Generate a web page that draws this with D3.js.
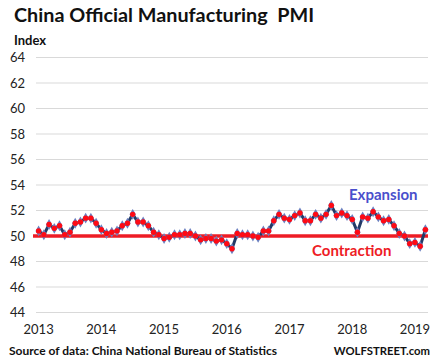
<!DOCTYPE html>
<html>
<head>
<meta charset="utf-8">
<script src="https://cdn.jsdelivr.net/npm/d3@7"></script>
<style>
  body { margin: 0; background: #fff; }
  svg { display: block; font-family: Lato, "Open Sans", sans-serif; }
</style>
</head>
<body>
<svg id="chart" width="437" height="364"></svg>
<script>
// monthly PMI, Jan 2013 .. Mar 2019
var pmi2013 = [50.4, 50.1, 50.9, 50.6, 50.8, 50.1, 50.3, 51.0, 51.1, 51.4, 51.4, 51.0];
var pmi2014 = [50.5, 50.2, 50.3, 50.4, 50.8, 51.0, 51.7, 51.1, 51.1, 50.8, 50.3, 50.1];
var pmi2015 = [49.8, 49.9, 50.1, 50.1, 50.2, 50.2, 50.0, 49.7, 49.8, 49.8, 49.6, 49.7];
var pmi2016 = [49.4, 49.0, 50.2, 50.1, 50.1, 50.0, 49.9, 50.4, 50.4, 51.2, 51.7, 51.4];
var pmi2017 = [51.3, 51.6, 51.8, 51.2, 51.2, 51.7, 51.4, 51.7, 52.4, 51.6, 51.8, 51.6];
var pmi2018 = [51.3, 50.3, 51.5, 51.4, 51.9, 51.5, 51.2, 51.3, 50.8, 50.2, 50.0, 49.4];
var pmi2019 = [49.5, 49.2, 50.5];

var years = ["2013", "2014", "2015", "2016", "2017", "2018", "2019"];
var yTicks = [44, 46, 48, 50, 52, 54, 56, 58, 60, 62, 64];
var threshold = 50;

var values = [].concat(pmi2013, pmi2014, pmi2015, pmi2016, pmi2017, pmi2018, pmi2019);
var data = values.map(function(v, i) { return { i: i, v: v }; });

var svg = d3.select("#chart");
var plotLeft = 36, plotRight = 428, plotTop = 57.5, plotBottom = 312.5;

var x = d3.scalePoint()
  .domain(d3.range(values.length))
  .range([plotLeft, plotRight])
  .padding(0.5);

var y = d3.scaleLinear()
  .domain([44, 64])
  .range([plotBottom, plotTop]);

// gridlines
svg.append("g")
  .selectAll("line")
  .data(yTicks)
  .enter().append("line")
  .attr("x1", plotLeft).attr("x2", plotRight)
  .attr("y1", function(d) { return y(d); })
  .attr("y2", function(d) { return y(d); })
  .attr("stroke", "#d9d9d9")
  .attr("stroke-width", 1);

// y labels
svg.append("g")
  .selectAll("text")
  .data(yTicks)
  .enter().append("text")
  .attr("x", 25)
  .attr("y", function(d) { return y(d); })
  .attr("dy", "0.35em")
  .attr("text-anchor", "end")
  .attr("font-size", 13)
  .attr("fill", "#222")
  .text(function(d) { return d; });

// x labels at january of each year
svg.append("g")
  .selectAll("text")
  .data(years)
  .enter().append("text")
  .attr("x", function(d, k) { return x(k * 12); })
  .attr("y", 334)
  .attr("text-anchor", "middle")
  .attr("font-size", 13)
  .attr("fill", "#222")
  .text(function(d) { return d; });

// 50 line
svg.append("line")
  .attr("x1", 33).attr("x2", plotRight)
  .attr("y1", y(threshold)).attr("y2", y(threshold))
  .attr("stroke", "#ee1c25")
  .attr("stroke-width", 3.5);

var line = d3.line()
  .x(function(d) { return x(d.i); })
  .y(function(d) { return y(d.v); });

svg.append("path")
  .datum(data)
  .attr("d", line)
  .attr("fill", "none")
  .attr("stroke", "#233a66")
  .attr("stroke-width", 3);

var diamond = d3.symbol().type(d3.symbolDiamond).size(34);

svg.append("g")
  .selectAll("path")
  .data(data)
  .enter().append("path")
  .attr("transform", function(d) { return "translate(" + x(d.i) + "," + y(d.v) + ")"; })
  .attr("d", diamond)
  .attr("fill", "#6a7fc0");

svg.append("g")
  .selectAll("circle")
  .data(data)
  .enter().append("circle")
  .attr("cx", function(d) { return x(d.i); })
  .attr("cy", function(d) { return y(d.v); })
  .attr("r", 2.7)
  .attr("fill", "#ff0a14");

// annotations
svg.append("text")
  .attr("x", 349).attr("y", 200)
  .attr("font-size", 15).attr("font-weight", "bold")
  .attr("fill", "#4a4fcc")
  .text("Expansion");

svg.append("text")
  .attr("x", 312).attr("y", 256)
  .attr("font-size", 15).attr("font-weight", "bold")
  .attr("fill", "#ee1c25")
  .text("Contraction");

// title and footer
svg.append("text")
  .attr("x", 14).attr("y", 22)
  .attr("font-size", 19.8).attr("font-weight", "bold")
  .attr("fill", "#111")
  .attr("xml:space", "preserve")
  .text("China Official Manufacturing  PMI");

svg.append("text")
  .attr("x", 14).attr("y", 45)
  .attr("font-size", 13).attr("font-weight", "bold")
  .attr("fill", "#111")
  .text("Index");

svg.append("text")
  .attr("x", 9).attr("y", 355)
  .attr("font-size", 12).attr("font-weight", "bold")
  .attr("fill", "#111")
  .text("Source of data: China National Bureau of Statistics");

svg.append("text")
  .attr("x", 430).attr("y", 355)
  .attr("text-anchor", "end")
  .attr("font-size", 11.3).attr("font-weight", "bold")
  .attr("fill", "#111")
  .text("WOLFSTREET.com");
</script>
</body>
</html>
